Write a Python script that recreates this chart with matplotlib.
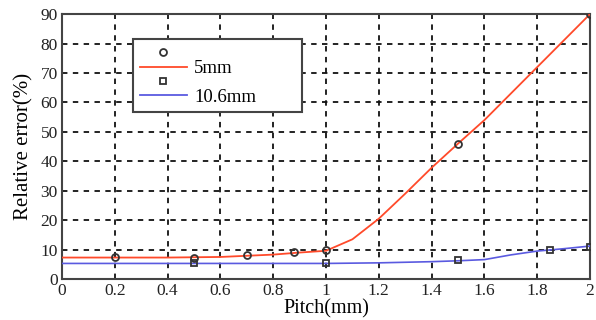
import matplotlib.pyplot as plt
from matplotlib.lines import Line2D

plt.rcParams['font.family'] = ['Liberation Serif', 'DejaVu Serif']

# curves
x_5 = [0, 0.2, 0.4, 0.6, 0.8, 0.9, 1.0, 1.1, 1.2, 1.3, 1.4, 1.5, 1.6, 1.7, 1.8, 1.9, 2.0]
y_5 = [7.3, 7.3, 7.3, 7.5, 8.3, 9.0, 9.6, 13.5, 20.5, 29, 37.8, 46, 54, 63, 72, 81, 90]
x_106 = [0, 0.2, 0.4, 0.6, 0.8, 1.0, 1.2, 1.4, 1.5, 1.6, 1.7, 1.8, 1.9, 2.0]
y_106 = [5.3, 5.3, 5.3, 5.3, 5.3, 5.3, 5.5, 5.9, 6.2, 6.6, 8.2, 9.5, 10.3, 11.2]

# measured points
px_5 = [0.2, 0.5, 0.7, 0.88, 1.0, 1.5, 2.0]
py_5 = [7.5, 7.2, 8.3, 9.2, 10, 46, 90]
px_106 = [0.5, 1.0, 1.5, 1.85, 2.0]
py_106 = [5.6, 5.4, 6.3, 9.7, 11]

fig = plt.figure(figsize=(5.96, 3.2), dpi=100)
ax = fig.add_axes([0.104, 0.128, 0.886, 0.828])

ax.plot(x_5, y_5, color='#ff4a2a', lw=1.3, zorder=3)
ax.plot(x_106, y_106, color='#5a5ae0', lw=1.2, zorder=3)
ax.plot(px_5, py_5, 'o', ms=5, mfc='none', mec='#333333', mew=1.3, zorder=4)
ax.plot(px_106, py_106, 's', ms=5, mfc='none', mec='#333333', mew=1.3, zorder=4)

ax.set_xlim(0, 2)
ax.set_ylim(0, 90)
ax.set_xticks([0, 0.2, 0.4, 0.6, 0.8, 1, 1.2, 1.4, 1.6, 1.8, 2])
ax.set_xticklabels(['0', '0.2', '0.4', '0.6', '0.8', '1', '1.2', '1.4', '1.6', '1.8', '2'])
ax.set_yticks(range(0, 91, 10))
ax.tick_params(length=0, labelsize=12.5, pad=3, colors='#222222')
ax.grid(True, color='#111111', ls=(0, (3, 3)), lw=1.3)
for s in ax.spines.values():
    s.set_color('#444444')
    s.set_linewidth(1.5)

ax.set_xlabel('Pitch(mm)', fontsize=14.5, labelpad=0)
ax.set_ylabel('Relative error(%)', fontsize=15, labelpad=5)

handles = [
    Line2D([], [], marker='o', ls='none', ms=5, mfc='none', mec='#333333', mew=1.3),
    Line2D([], [], color='#ff4a2a', lw=1.3),
    Line2D([], [], marker='s', ls='none', ms=5, mfc='none', mec='#333333', mew=1.3),
    Line2D([], [], color='#5a5ae0', lw=1.3),
]
leg = ax.legend(handles, ['', '5mm', '', '10.6mm'], loc='upper left',
                bbox_to_anchor=(0.135, 0.905, 0.32, 0.0), mode='expand',
                fontsize=13.5, fancybox=False,
                framealpha=1, edgecolor='#444444', handlelength=2.5,
                labelspacing=-0.15, borderpad=0.35, handletextpad=0.4,
                borderaxespad=0)
leg.get_frame().set_linewidth(1.5)

fig.savefig('out.png', dpi=100)
